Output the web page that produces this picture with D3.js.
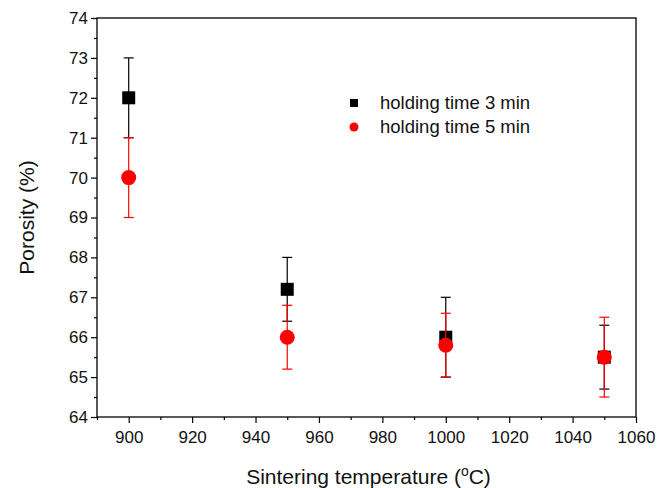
<!DOCTYPE html>
<html><head><meta charset="utf-8">
<script src="https://cdn.jsdelivr.net/npm/d3@7"></script>
<style>body{margin:0;background:#fff}svg{display:block}text{font-family:"Liberation Sans",Arial,sans-serif}</style>
</head><body>
<script>
const temps = [900, 950, 1000, 1050];
const porosity3 = [72.0, 67.2, 66.0, 65.5];
const err3 = [1.0, 0.8, 1.0, 0.8];
const porosity5 = [70.0, 66.0, 65.8, 65.5];
const err5 = [1.0, 0.8, 0.8, 1.0];
const xTicks = [900, 920, 940, 960, 980, 1000, 1020, 1040, 1060];
const yTicks = [64, 65, 66, 67, 68, 69, 70, 71, 72, 73, 74];
const seriesNames = ["holding time 3 min", "holding time 5 min"];

const W = 669, H = 488;
const m = {l: 97, r: 33, t: 18, b: 71};
const svg = d3.select("body").append("svg").attr("width", W).attr("height", H);
const x = d3.scaleLinear().domain([890, 1060]).range([m.l, W - m.r]);
const y = d3.scaleLinear().domain([64, 74]).range([H - m.b, m.t]);

// frame
svg.append("rect").attr("x", m.l).attr("y", m.t).attr("width", W - m.r - m.l).attr("height", H - m.b - m.t)
  .attr("fill", "none").attr("stroke", "#000").attr("stroke-width", 1.3);

// axes
const xAxis = svg.append("g").attr("transform", `translate(0,${H - m.b})`)
  .call(d3.axisBottom(x).tickValues(xTicks).tickSize(6).tickPadding(8).tickFormat(d3.format("d")));
const xMinor = svg.append("g").attr("transform", `translate(0,${H - m.b})`)
  .call(d3.axisBottom(x).tickValues(d3.range(890, 1061, 20)).tickSize(3).tickFormat(""));
const yAxis = svg.append("g").attr("transform", `translate(${m.l},0)`)
  .call(d3.axisLeft(y).tickValues(yTicks).tickSize(6).tickPadding(3).tickFormat(d3.format("d")));
const yMinor = svg.append("g").attr("transform", `translate(${m.l},0)`)
  .call(d3.axisLeft(y).tickValues(d3.range(64.5, 74, 1)).tickSize(3).tickFormat(""));
[xAxis, xMinor, yAxis, yMinor].forEach(g => {
  g.select(".domain").remove();
  g.selectAll("line").attr("stroke", "#000").attr("stroke-width", 1.2);
  g.selectAll("text").attr("font-size", 17).attr("fill", "#111").attr("font-family", "Liberation Sans, Arial, sans-serif");
});

// axis titles
svg.append("text").attr("transform", `translate(34,${(m.t + H - m.b) / 2}) rotate(-90)`)
  .attr("text-anchor", "middle").attr("font-size", 21).attr("fill", "#111").text("Porosity (%)");
const xt = svg.append("text").attr("x", (m.l + W - m.r) / 2 + 2).attr("y", 484)
  .attr("text-anchor", "middle").attr("font-size", 21).attr("fill", "#111");
xt.append("tspan").text("Sintering temperature (");
xt.append("tspan").attr("font-size", 14).attr("dy", -8).text("o");
xt.append("tspan").attr("dy", 8).text("C)");

function errorBars(vals, errs, color) {
  const g = svg.append("g").attr("stroke", color).attr("stroke-width", 1.2);
  temps.forEach((t, i) => {
    const cx = x(t), lo = y(vals[i] - errs[i]), hi = y(vals[i] + errs[i]);
    g.append("line").attr("x1", cx).attr("x2", cx).attr("y1", lo).attr("y2", hi);
    g.append("line").attr("x1", cx - 5).attr("x2", cx + 5).attr("y1", lo).attr("y2", lo);
    g.append("line").attr("x1", cx - 5).attr("x2", cx + 5).attr("y1", hi).attr("y2", hi);
  });
}
errorBars(porosity3, err3, "#000");
svg.append("g").selectAll("rect").data(temps).join("rect")
  .attr("x", (d) => x(d) - 6.5).attr("y", (d, i) => y(porosity3[i]) - 6.5)
  .attr("width", 13).attr("height", 13).attr("fill", "#000");
errorBars(porosity5, err5, "#ff0000");
svg.append("g").selectAll("circle").data(temps).join("circle")
  .attr("cx", (d) => x(d)).attr("cy", (d, i) => y(porosity5[i])).attr("r", 7.5).attr("fill", "#ff0000");

// legend
const lg = svg.append("g");
lg.append("rect").attr("x", 350).attr("y", 99).attr("width", 8).attr("height", 8).attr("fill", "#000");
lg.append("circle").attr("cx", 354).attr("cy", 127).attr("r", 4.5).attr("fill", "#ff0000");
lg.append("text").attr("x", 380).attr("y", 109).attr("font-size", 18.5).attr("fill", "#111").text(seriesNames[0]);
lg.append("text").attr("x", 380).attr("y", 133).attr("font-size", 18.5).attr("fill", "#111").text(seriesNames[1]);
</script>
</body></html>
